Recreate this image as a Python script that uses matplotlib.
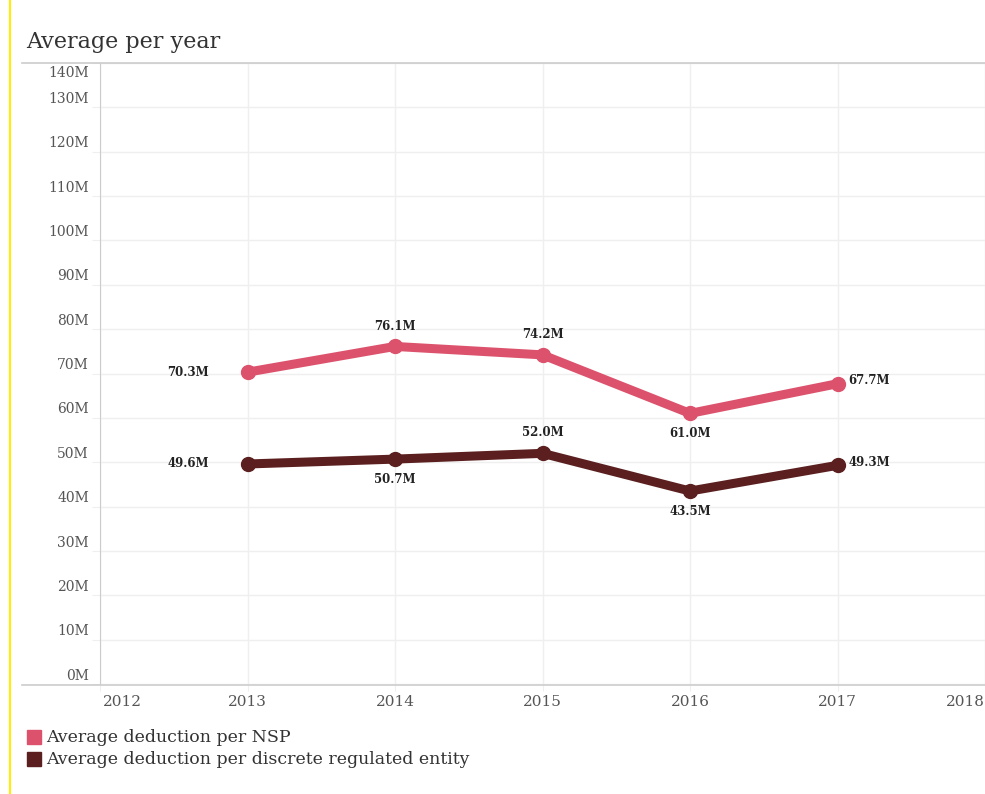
import matplotlib
matplotlib.use('Agg')
import matplotlib.pyplot as plt
from matplotlib.lines import Line2D
from matplotlib.patches import Rectangle

years = [2013, 2014, 2015, 2016, 2017]
nsp = [70.3, 76.1, 74.2, 61.0, 67.7]
dre = [49.6, 50.7, 52.0, 43.5, 49.3]
nsp_pos = ['left', 'above', 'above', 'below', 'right']
dre_pos = ['left', 'below', 'above', 'below', 'right']
yticks = list(range(0, 150, 10))
xticks = list(range(2012, 2019))
series_names = ['Average deduction per NSP', 'Average deduction per discrete regulated entity']

pink = '#dc526c'
dark = '#5b1f1f'
grey = '#555555'

plt.rcParams['font.family'] = ['DejaVu Serif']

fig = plt.figure(figsize=(9.85, 7.94), dpi=100)
ax = fig.add_axes([100/985, 1 - 684/794, 885/985, 621/794])
ax.set_xlim(2012, 2018)
ax.set_ylim(0, 140)

ax.set_xticks(xticks)
ax.set_yticks(yticks)
ax.grid(True, color='#efefef', lw=1)
ax.set_axisbelow(True)
for s in ['top', 'right', 'bottom']:
    ax.spines[s].set_visible(False)
ax.spines['left'].set_color('#cccccc')
ax.tick_params(axis='y', length=6, color='#efefef', labelleft=False)
ax.tick_params(axis='x', length=5, color='#efefef', labelbottom=False)

# y labels sit just above their gridline
for v in yticks:
    if v == 140:
        ax.annotate(f'{v}M', (2012, v), xytext=(-8, -2), textcoords='offset points',
                    ha='right', va='top', fontsize=10, color=grey)
    else:
        ax.annotate(f'{v}M', (2012, v), xytext=(-8, 1), textcoords='offset points',
                    ha='right', va='bottom', fontsize=10, color=grey)

for v in xticks:
    ha = 'left' if v == 2012 else ('right' if v == 2018 else 'center')
    ax.annotate(str(v), (v, 0), xytext=(2 if v == 2012 else 0, -8), textcoords='offset points',
                ha=ha, va='top', fontsize=11, color=grey, annotation_clip=False)

ax.plot(years, nsp, color=pink, lw=6.5, marker='o', ms=10, solid_capstyle='round', clip_on=False)
ax.plot(years, dre, color=dark, lw=6.5, marker='o', ms=10, solid_capstyle='round', clip_on=False)

offs = {'left': (-28, 0, 'right', 'center'), 'right': (8, 2, 'left', 'center'),
        'above': (0, 10, 'center', 'bottom'), 'below': (0, -10, 'center', 'top')}
for vals, pos in [(nsp, nsp_pos), (dre, dre_pos)]:
    for x, y, p in zip(years, vals, pos):
        dx, dy, ha, va = offs[p]
        ax.annotate(f'{y:.1f}M', (x, y), xytext=(dx, dy), textcoords='offset points',
                    ha=ha, va=va, fontsize=8.5, color='#222222', fontweight='bold')

# frame lines, title, legend
fig.add_artist(Line2D([22/985, 1], [1 - 63/794] * 2, color='#cccccc', lw=1.2))
fig.add_artist(Line2D([22/985, 1], [1 - 685/794] * 2, color='#cccccc', lw=1.2))
fig.add_artist(Line2D([10/985] * 2, [0, 1], color='#ffee00', lw=1.5))
fig.text(26/985, 1 - 42/794, 'Average per year', fontsize=16, color='#333333', va='center')

for i, (name, c) in enumerate(zip(series_names, [pink, dark])):
    yc = 1 - (737 + 22 * i) / 794
    fig.add_artist(Rectangle((27/985, yc - 7/794), 14/985, 14/794, color=c))
    fig.text(46/985, yc, name, fontsize=12.5, color='#333333', va='center')

fig.savefig('out.png', dpi=100)
